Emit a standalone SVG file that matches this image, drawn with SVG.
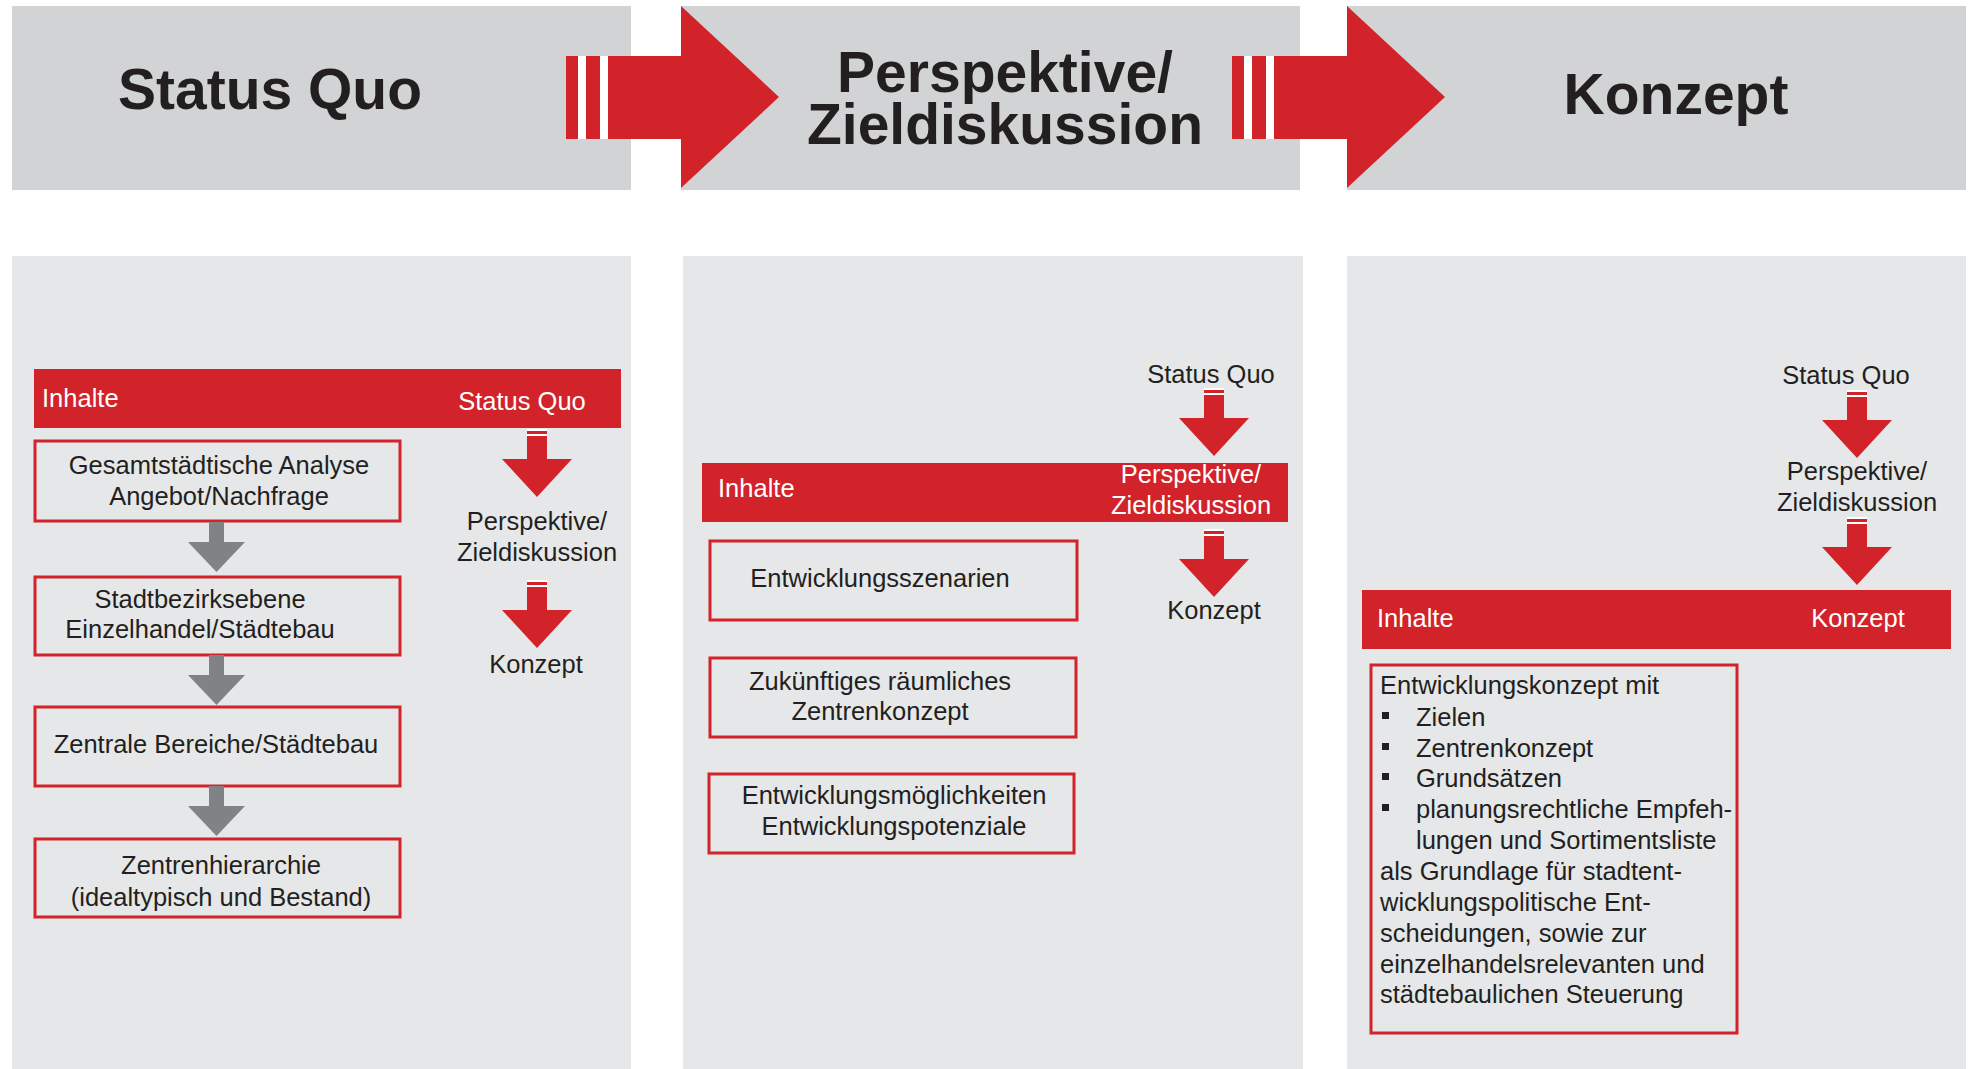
<svg xmlns="http://www.w3.org/2000/svg" xmlns:xlink="http://www.w3.org/1999/xlink" width="1970" height="1069" viewBox="0 0 1970 1069">
<style>
.hdr{fill:#d1d3d4}
.pnl{fill:#e6e7e8}
.red{fill:#d2232a}
.wht{fill:#ffffff}
.box{fill:none;stroke:#d2232a;stroke-width:3}
.h{font-family:"Liberation Sans",Arial,sans-serif;font-weight:bold;font-size:57px;fill:#231f20;text-anchor:middle}
.t{font-family:"Liberation Sans",Arial,sans-serif;font-size:25.5px;fill:#231f20}
.c{text-anchor:middle}
.w{fill:#ffffff}
</style>
<defs>
<g id="redArrow">
<path class="red" d="M-10,0 H10 V30 H35 L0,68 L-35,30 H-10 Z"/>
<rect class="wht" x="-10" y="0" width="20" height="2"/>
<rect class="wht" x="-10" y="5" width="20" height="2"/>
</g>
<path id="grayArrow" fill="#808285" d="M-7.5,0 H7.5 V20 H28.5 L0,50 L-28.5,20 H-7.5 Z"/>
</defs>

<!-- header row -->
<g id="header-status-quo">
<rect class="hdr" x="12" y="6" width="619" height="184"/>
<text class="h" x="270" y="109">Status Quo</text>
</g>
<g id="header-perspektive">
<rect class="hdr" x="681" y="6" width="619" height="184"/>
<text class="h" x="1005" y="92" font-size="56">Perspektive/</text>
<text class="h" x="1005" y="144" font-size="56">Zieldiskussion</text>
</g>
<g id="header-konzept">
<rect class="hdr" x="1347" y="6" width="619" height="184"/>
<text class="h" x="1676" y="114" font-size="56">Konzept</text>
</g>
<g id="header-arrows">
<rect class="wht" x="566" y="56" width="42" height="83"/>
<rect class="red" x="566" y="56" width="12" height="83"/>
<rect class="red" x="586" y="56" width="14" height="83"/>
<path class="red" d="M608,56 H681 V6 L779,97 L681,188 V139 H608 Z"/>
<rect class="wht" x="1232" y="56" width="42" height="83"/>
<rect class="red" x="1232" y="56" width="12" height="83"/>
<rect class="red" x="1252" y="56" width="14" height="83"/>
<path class="red" d="M1274,56 H1347 V6 L1445,97 L1347,188 V139 H1274 Z"/>
</g>

<!-- lower panels -->
<rect class="pnl" x="12" y="256" width="619" height="813"/>
<rect class="pnl" x="683" y="256" width="620" height="813"/>
<rect class="pnl" x="1347" y="256" width="619" height="813"/>

<!-- panel 1 -->
<g id="p1-bar">
<rect class="red" x="34" y="369" width="587" height="59"/>
<text class="t w" x="42" y="407">Inhalte</text>
<text class="t w c" x="522" y="410">Status Quo</text>
</g>
<g id="p1-box1">
<rect class="box" x="35" y="441" width="365" height="80"/>
<text class="t c" x="219" y="474">Gesamtstädtische Analyse</text>
<text class="t c" x="219" y="505">Angebot/Nachfrage</text>
</g>
<g id="p1-box2">
<rect class="box" x="35" y="577" width="365" height="78"/>
<text class="t c" x="200" y="608">Stadtbezirksebene</text>
<text class="t c" x="200" y="638">Einzelhandel/Städtebau</text>
</g>
<g id="p1-box3">
<rect class="box" x="35" y="707" width="365" height="79"/>
<text class="t c" x="216" y="753">Zentrale Bereiche/Städtebau</text>
</g>
<g id="p1-box4">
<rect class="box" x="35" y="839" width="365" height="78"/>
<text class="t c" x="221" y="874">Zentrenhierarchie</text>
<text class="t c" x="221" y="906">(idealtypisch und Bestand)</text>
</g>
<g id="p1-labels">
<text class="t c" x="537" y="530">Perspektive/</text>
<text class="t c" x="537" y="561">Zieldiskussion</text>
<text class="t c" x="536" y="673">Konzept</text>
</g>

<!-- panel 2 -->
<g id="p2-labels">
<text class="t c" x="1211" y="383">Status Quo</text>
<text class="t c" x="1214" y="619">Konzept</text>
</g>
<g id="p2-bar">
<rect class="red" x="702" y="463" width="586" height="59"/>
<text class="t w" x="718" y="497">Inhalte</text>
<text class="t w c" x="1191" y="483">Perspektive/</text>
<text class="t w c" x="1191" y="514">Zieldiskussion</text>
</g>
<g id="p2-box1">
<rect class="box" x="710" y="541" width="367" height="79"/>
<text class="t c" x="880" y="587">Entwicklungsszenarien</text>
</g>
<g id="p2-box2">
<rect class="box" x="710" y="658" width="366" height="79"/>
<text class="t c" x="880" y="690">Zukünftiges räumliches</text>
<text class="t c" x="880" y="720">Zentrenkonzept</text>
</g>
<g id="p2-box3">
<rect class="box" x="709" y="774" width="365" height="79"/>
<text class="t c" x="894" y="804">Entwicklungsmöglichkeiten</text>
<text class="t c" x="894" y="835">Entwicklungspotenziale</text>
</g>

<!-- panel 3 -->
<g id="p3-labels">
<text class="t c" x="1846" y="384">Status Quo</text>
<text class="t c" x="1857" y="480">Perspektive/</text>
<text class="t c" x="1857" y="511">Zieldiskussion</text>
</g>
<g id="p3-bar">
<rect class="red" x="1362" y="590" width="589" height="59"/>
<text class="t w" x="1377" y="627">Inhalte</text>
<text class="t w c" x="1858" y="627">Konzept</text>
</g>
<g id="p3-box">
<rect class="box" x="1371" y="665" width="366" height="368"/>
<text class="t" x="1380" y="694">Entwicklungskonzept mit</text>
<rect fill="#231f20" x="1382" y="712" width="7" height="7"/>
<text class="t" x="1416" y="726">Zielen</text>
<rect fill="#231f20" x="1382" y="743" width="7" height="7"/>
<text class="t" x="1416" y="757">Zentrenkonzept</text>
<rect fill="#231f20" x="1382" y="773" width="7" height="7"/>
<text class="t" x="1416" y="787">Grundsätzen</text>
<rect fill="#231f20" x="1382" y="804" width="7" height="7"/>
<text class="t" x="1416" y="818">planungsrechtliche Empfeh-</text>
<text class="t" x="1416" y="849">lungen und Sortimentsliste</text>
<text class="t" x="1380" y="880">als Grundlage für stadtent-</text>
<text class="t" x="1380" y="911">wicklungspolitische Ent-</text>
<text class="t" x="1380" y="942">scheidungen, sowie zur</text>
<text class="t" x="1380" y="973">einzelhandelsrelevanten und</text>
<text class="t" x="1380" y="1003">städtebaulichen Steuerung</text>
</g>

<!-- connectors -->
<g id="connectors">
<use xlink:href="#grayArrow" x="216.5" y="522"/>
<use xlink:href="#grayArrow" x="216.5" y="655"/>
<use xlink:href="#grayArrow" x="216.5" y="786"/>
<use xlink:href="#redArrow" x="537" y="429"/>
<use xlink:href="#redArrow" x="537" y="580"/>
<use xlink:href="#redArrow" x="1214" y="388"/>
<use xlink:href="#redArrow" x="1214" y="529"/>
<use xlink:href="#redArrow" x="1857" y="390"/>
<use xlink:href="#redArrow" x="1857" y="517"/>
</g>
</svg>
